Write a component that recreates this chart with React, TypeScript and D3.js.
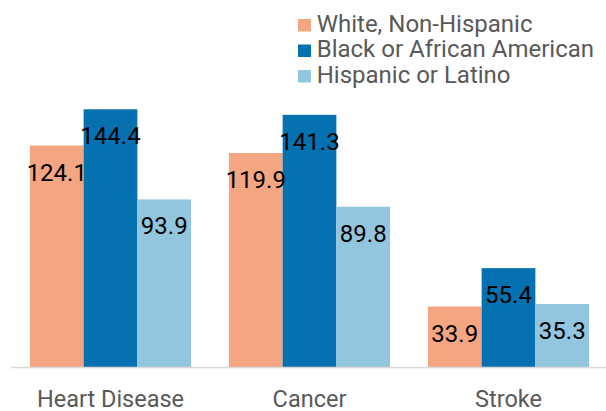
import React from "react";
import * as d3 from "d3";

const categories = ["Heart Disease", "Cancer", "Stroke"];
const seriesNames = ["White, Non-Hispanic", "Black or African American", "Hispanic or Latino"];
const whiteValues = [124.1, 119.9, 33.9];
const blackValues = [144.4, 141.3, 55.4];
const hispanicValues = [93.9, 89.8, 35.3];
const seriesColors = ["#F4A582", "#0571B0", "#92C5DE"];

const W = 606;
const H = 411;
const FONT = "Roboto, 'Noto Sans', sans-serif";

export default function App() {
  const series = [whiteValues, blackValues, hispanicValues];
  const baseline = 367;
  const x0 = d3.scaleBand<string>().domain(categories).range([11, 608]).paddingInner(0.19).paddingOuter(0.095);
  const x1 = d3.scaleBand<number>().domain([0, 1, 2]).range([0, x0.bandwidth()]);
  const y = d3.scaleLinear().domain([0, 144.4]).range([baseline, 109.3]);

  return (
    <svg width={W} height={H} style={{ position: "absolute", left: 0, top: 0 }}>
      <rect width={W} height={H} fill="#fff" />
      {categories.map((c, ci) => (
        <g key={c}>
          {series.map((vals, si) => {
            const bx = (x0(c) ?? 0) + (x1(si) ?? 0);
            const by = y(vals[ci]);
            return <rect key={si} x={bx} y={by} width={x1.bandwidth()} height={baseline - by} fill={seriesColors[si]} />;
          })}
        </g>
      ))}
      {categories.map((c, ci) =>
        series.map((vals, si) => {
          const bx = (x0(c) ?? 0) + (x1(si) ?? 0) + x1.bandwidth() / 2;
          return (
            <text key={c + si} x={bx} y={y(vals[ci]) + 35} textAnchor="middle" fontFamily={FONT} fontSize={24} fill="#000">
              {vals[ci].toFixed(1)}
            </text>
          );
        })
      )}
      <line x1={11} x2={606} y1={baseline + 0.5} y2={baseline + 0.5} stroke="#d9d9d9" strokeWidth={1.5} />
      {categories.map((c) => (
        <text key={c} x={(x0(c) ?? 0) + x0.bandwidth() / 2} y={406.5} textAnchor="middle" fontFamily={FONT} fontSize={23.5} fill="#595959">
          {c}
        </text>
      ))}
      {seriesNames.map((n, i) => (
        <g key={n} transform={`translate(298, ${19 + i * 25.5})`}>
          <rect width={13} height={12.5} fill={seriesColors[i]} />
          <text x={18.7} y={12.7} fontFamily={FONT} fontSize={24} fill="#595959">
            {n}
          </text>
        </g>
      ))}
    </svg>
  );
}
